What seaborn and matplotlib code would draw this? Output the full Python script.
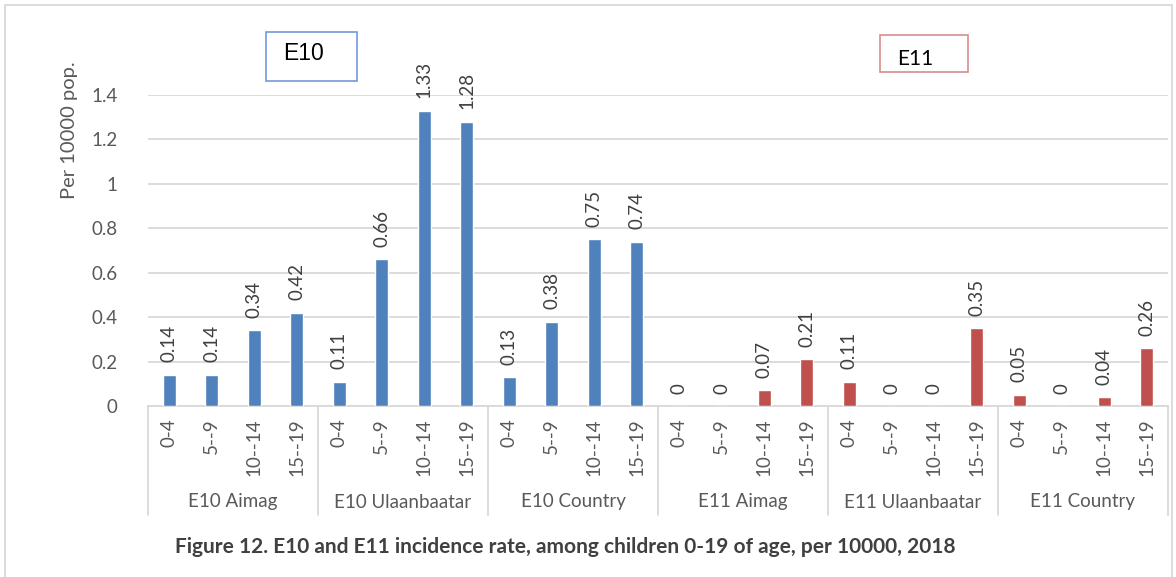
import matplotlib
matplotlib.use("Agg")
import matplotlib.pyplot as plt
from matplotlib.patches import Rectangle
import matplotlib.transforms as mtransforms
import seaborn as sns
import pandas as pd

# ---- data -------------------------------------------------------------
ages = ["0-4", "5--9", "10--14", "15--19"]
groups = ["E10 Aimag", "E10 Ulaanbaatar", "E10 Country",
          "E11 Aimag", "E11 Ulaanbaatar", "E11 Country"]
e10_aimag = [0.14, 0.14, 0.34, 0.42]
e10_ulaanbaatar = [0.11, 0.66, 1.33, 1.28]
e10_country = [0.13, 0.38, 0.75, 0.74]
e11_aimag = [0, 0, 0.07, 0.21]
e11_ulaanbaatar = [0.11, 0, 0, 0.35]
e11_country = [0.05, 0, 0.04, 0.26]
y_ticks = [0, 0.2, 0.4, 0.6, 0.8, 1.0, 1.2, 1.4]
caption = "Figure 12. E10 and E11 incidence rate, among children 0-19 of age, per 10000, 2018"

series = [e10_aimag, e10_ulaanbaatar, e10_country,
          e11_aimag, e11_ulaanbaatar, e11_country]

rows = []
for g, vals in zip(groups, series):
    for a, v in zip(ages, vals):
        rows.append({"slot": f"{g}|{a}", "group": g, "age": a,
                     "disease": g.split()[0], "value": v})
df = pd.DataFrame(rows)

# ---- style ------------------------------------------------------------
sns.set_theme(style="white")
plt.rcParams["font.family"] = ["Lato", "DejaVu Sans"]
TXT = "#595959"
GRID = "#d9d9d9"
palette = {"E10": "#4f81bd", "E11": "#c0504d"}

fig = plt.figure(figsize=(11.76, 5.77), dpi=100)
W, H = 1176, 577
ax = fig.add_axes([148 / W, 1 - 406 / H, (1168 - 148) / W, (406 - 95) / H])

sns.barplot(data=df, x="slot", y="value", hue="disease", palette=palette,
            dodge=False, width=0.31, saturation=1, legend=False, ax=ax,
            zorder=3)

ax.set_ylim(0, 1.4)
ax.set_xlim(-0.5, len(df) - 0.5)
ax.set_yticks(y_ticks)
ax.set_yticklabels([f"{t:g}" for t in y_ticks], color=TXT, fontsize=13.5)
ax.tick_params(axis="y", length=0, pad=22)
ax.yaxis.grid(True, color=GRID, linewidth=1.3, zorder=0)
ax.set_axisbelow(True)
for s in ["top", "right", "left"]:
    ax.spines[s].set_visible(False)
ax.spines["bottom"].set_color(GRID)
ax.spines["bottom"].set_linewidth(1.3)
ax.set_xlabel("")
ax.set_ylabel("Per 10000 pop.", color=TXT, fontsize=14.5)
ax.yaxis.set_label_coords((78 - 148) / 1020, (406 - 130) / 311)

# age labels under each bar
ax.set_xticks(range(len(df)))
ax.set_xticklabels(df["age"], rotation=90, color=TXT, fontsize=13.5,
                   va="top", ha="center")
ax.tick_params(axis="x", length=0, pad=9)

# group dividers and group names
trans = mtransforms.blended_transform_factory(ax.transData, ax.transAxes)
depth = (515 - 406) / (406 - 95)
for i in range(len(groups) + 1):
    x = i * len(ages) - 0.5
    ax.plot([x, x], [0, -depth], transform=trans, color=GRID,
            linewidth=1.3, clip_on=False)
for i, g in enumerate(groups):
    xc = i * len(ages) + (len(ages) - 1) / 2
    ax.text(xc, -(502 - 406) / (406 - 95), g, transform=trans,
            ha="center", va="center", color=TXT, fontsize=13.5)

# value labels
for i, v in enumerate(df["value"]):
    ax.annotate(f"{v:g}", (i, v), xytext=(0, 9), textcoords="offset points",
                rotation=90, ha="center", va="bottom", color="#404040",
                fontsize=13.5, annotation_clip=False)

# series boxes
fig.patches.append(Rectangle((266 / W, 1 - 81 / H), 91 / W, 49 / H,
                             transform=fig.transFigure, fill=False,
                             edgecolor="#6f9bd8", linewidth=1.2))
fig.text(283 / W, 1 - 54 / H, "E10", family="Liberation Sans",
         fontsize=16.5, color="black", va="center", ha="left")
fig.patches.append(Rectangle((880 / W, 1 - 72 / H), 88 / W, 37 / H,
                             transform=fig.transFigure, fill=False,
                             edgecolor="#d88d8b", linewidth=1.2))
fig.text(897 / W, 1 - 59 / H, "E11", fontsize=15, color="black",
         va="center", ha="left")

# outer frame
fig.patches.append(Rectangle((5 / W, -0.02), 1167 / W, 1 - 5 / H + 0.02,
                             transform=fig.transFigure, fill=False,
                             edgecolor=GRID, linewidth=1.3))

fig.text(175 / W, 1 - 547 / H, caption, fontsize=15, fontweight="bold",
         color="#404040", ha="left", va="center")

fig.savefig("out.png", dpi=100)
